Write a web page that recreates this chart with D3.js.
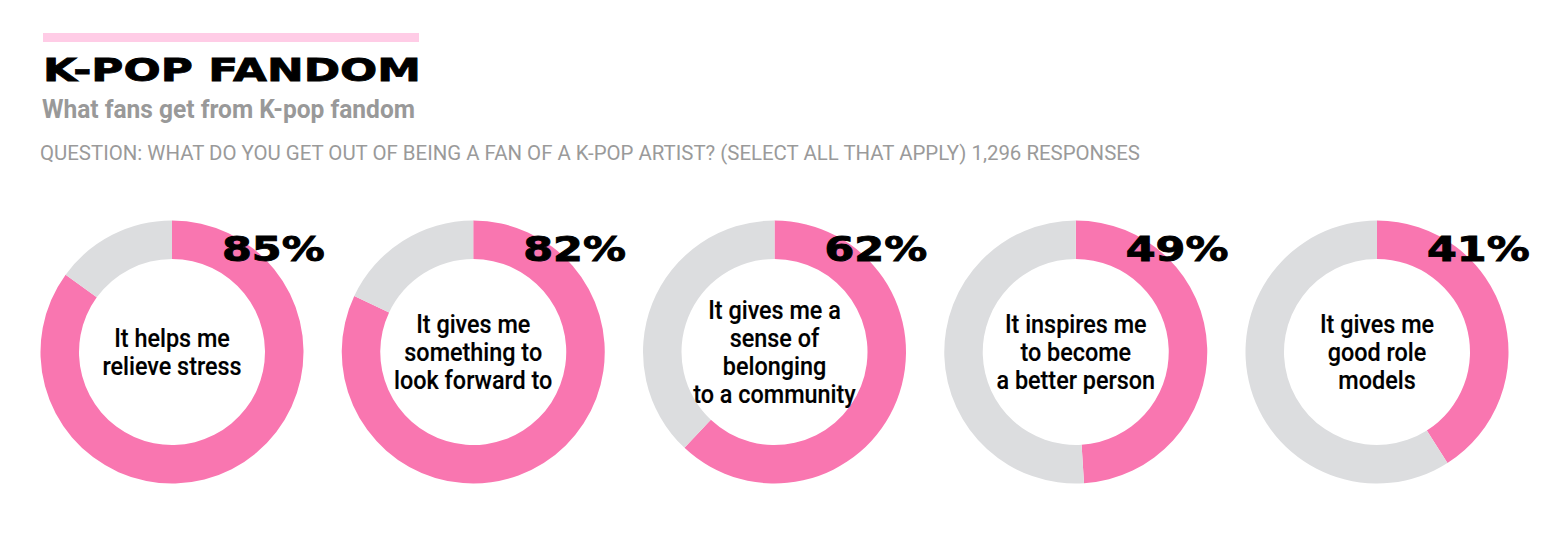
<!DOCTYPE html>
<html>
<head>
<meta charset="utf-8">
<script src="https://cdn.jsdelivr.net/npm/d3@7/dist/d3.min.js"></script>
<style>
  html, body { margin: 0; padding: 0; background: #ffffff; }
  svg { display: block; }
</style>
</head>
<body>
<svg id="chart" width="1566" height="540"></svg>
<script>
// ---- Data ----
const title = "K-POP FANDOM";
const subtitle = "What fans get from K-pop fandom";
const question = "QUESTION: WHAT DO YOU GET OUT OF BEING A FAN OF A K-POP ARTIST? (SELECT ALL THAT APPLY) 1,296 RESPONSES";
const categories = [
  "It helps me relieve stress",
  "It gives me something to look forward to",
  "It gives me a sense of belonging to a community",
  "It inspires me to become a better person",
  "It gives me good role models"
];
const labelLines = [
  ["It helps me", "relieve stress"],
  ["It gives me", "something to", "look forward to"],
  ["It gives me a", "sense of", "belonging", "to a community"],
  ["It inspires me", "to become", "a better person"],
  ["It gives me", "good role", "models"]
];
const values = [85, 82, 62, 49, 41];

// ---- Styles ----
const PINK = "#f976b0";
const GREY = "#dcdddf";
const LIGHT_PINK = "#ffcce6";

const svg = d3.select("#chart");

// Header
svg.append("rect")
  .attr("x", 43).attr("y", 33).attr("width", 376).attr("height", 9)
  .attr("fill", LIGHT_PINK);

svg.append("text")
  .attr("x", 43).attr("y", 81)
  .attr("font-family", "DejaVu Sans")
  .attr("font-weight", "bold")
  .attr("font-size", 31.5)
  .attr("textLength", 378)
  .attr("lengthAdjust", "spacingAndGlyphs")
  .attr("fill", "#000")
  .attr("stroke", "#000").attr("stroke-width", 0.8)
  .text(title);

svg.append("text")
  .attr("x", 42).attr("y", 118)
  .attr("font-family", "Roboto")
  .attr("font-weight", "bold")
  .attr("font-size", 26)
  .attr("textLength", 373)
  .attr("lengthAdjust", "spacingAndGlyphs")
  .attr("fill", "#999999")
  .text(subtitle);

svg.append("text")
  .attr("x", 40).attr("y", 160)
  .attr("font-family", "Roboto")
  .attr("font-weight", "normal")
  .attr("font-size", 19.5)
  .attr("textLength", 1100)
  .attr("lengthAdjust", "spacingAndGlyphs")
  .attr("fill", "#9a9a9a")
  .text(question);

// ---- Donuts ----
const x = d3.scalePoint().domain(categories).range([172, 1377]);
const cy = 352;
const outerR = 131.5, innerR = 93;

const pie = d3.pie().sort(null).value(d => d);
const arc = d3.arc().innerRadius(innerR).outerRadius(outerR);

const groups = svg.selectAll("g.donut")
  .data(categories.map((c, i) => ({ cat: c, value: values[i], lines: labelLines[i] })))
  .join("g")
  .attr("class", "donut")
  .attr("transform", d => `translate(${x(d.cat)},${cy})`);

groups.selectAll("path")
  .data(d => pie([d.value, 100 - d.value]))
  .join("path")
  .attr("d", arc)
  .attr("fill", (d, i) => i === 0 ? PINK : GREY);

// Center labels
groups.each(function(d) {
  const g = d3.select(this);
  const n = d.lines.length;
  const lh = 28;
  d.lines.forEach((line, j) => {
    g.append("g")
      .attr("transform", `translate(0,${(j - (n - 1) / 2) * lh + 8.5}) scale(0.9,1)`)
      .append("text")
      .attr("text-anchor", "middle")
      .attr("font-family", "Roboto")
      .attr("font-weight", 500)
      .attr("font-size", 26)
      .attr("fill", "#000")
      .attr("stroke", "#000").attr("stroke-width", 0.15)
      .text(line);
  });
});

// Percent labels
groups.append("g")
  .attr("transform", `translate(50,${261 - cy}) scale(1.3,1)`)
  .append("text")
  .attr("font-family", "DejaVu Sans")
  .attr("font-weight", "bold")
  .attr("font-size", 33)
  .attr("fill", "#000")
  .attr("stroke", "#000").attr("stroke-width", 0.9)
  .text(d => d.value + "%");
</script>
</body>
</html>
